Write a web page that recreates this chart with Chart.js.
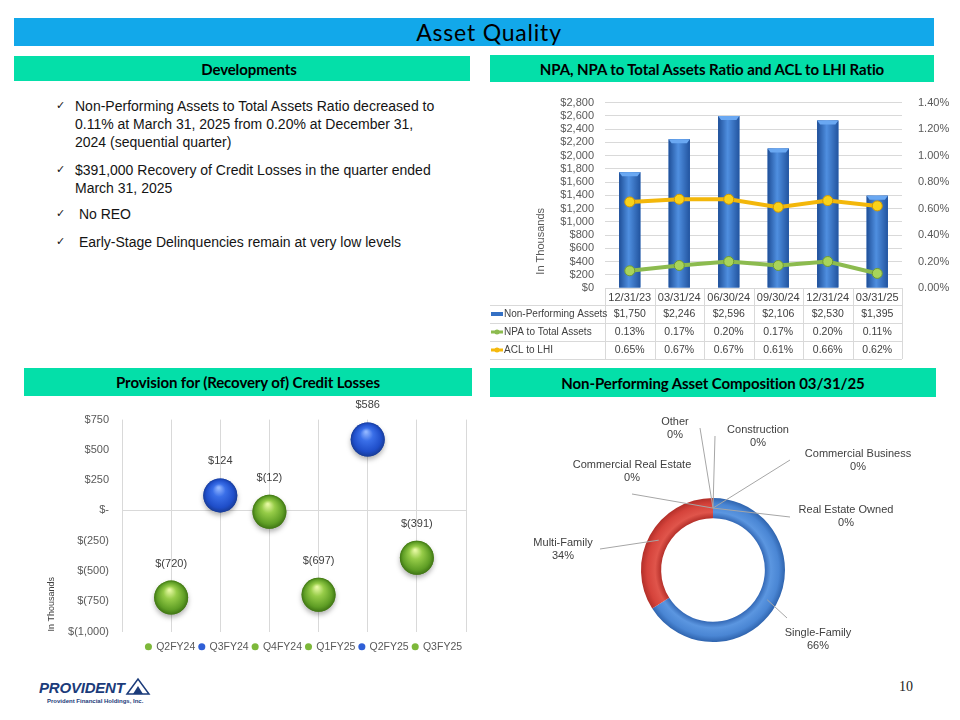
<!DOCTYPE html>
<html>
<head>
<meta charset="utf-8">
<script src="https://cdn.jsdelivr.net/npm/chart.js@4.4.1/dist/chart.umd.min.js"></script>
<style>
  body { margin: 0; background: #fff; width: 960px; height: 720px; position: relative; overflow: hidden; font-family: "Liberation Sans", Arial, sans-serif; }
  .band { position: absolute; display: flex; align-items: center; justify-content: center; color: #000; box-sizing: border-box; }
  .title { left: 14px; top: 18px; width: 920px; height: 28px; background: #12a8ea; font-family: Lato, sans-serif; font-size: 23px; letter-spacing: 0.8px; padding-left: 30px; }
  .sec { background: #04dfa9; font-family: Lato, sans-serif; font-weight: bold; font-size: 15px; letter-spacing: -0.1px; }
  canvas { position: absolute; }
  .bl { position: absolute; left: 75px; width: 420px; font-size: 14px; line-height: 18px; color: #141414; }
  .bl:before { content: "\2713"; position: absolute; left: -19px; top: 0; font-family: "DejaVu Sans"; font-size: 11px; }
  .logo { position: absolute; left: 39px; top: 677px; color: #1b3b7a; }
  .page { position: absolute; left: 899px; top: 679px; font-family: "Liberation Serif", serif; font-size: 14px; color: #222; }
</style>
</head>
<body>
<div class="band title">Asset Quality</div>
<div class="band sec" style="left:14px;top:56px;width:456px;height:25px;padding-left:14px">Developments</div>
<div class="band sec" style="left:490px;top:55px;width:444px;height:27px">NPA, NPA to Total Assets Ratio and ACL to LHI Ratio</div>
<div class="band sec" style="left:24px;top:368px;width:448px;height:28px">Provision for (Recovery of) Credit Losses</div>
<div class="band sec" style="left:490px;top:368px;width:446px;height:29px">Non-Performing Asset Composition 03/31/25</div>

<div class="bl" style="top:97px">Non-Performing Assets to Total Assets Ratio decreased to<br>0.11% at March 31, 2025 from 0.20% at December 31,<br>2024 (sequential quarter)</div>
<div class="bl" style="top:161px">$391,000 Recovery of Credit Losses in the quarter ended<br>March 31, 2025</div>
<div class="bl" style="top:205px">&nbsp;No REO</div>
<div class="bl" style="top:233px">&nbsp;Early-Stage Delinquencies remain at very low levels</div>

<canvas id="npa" width="470" height="275" style="left:490px;top:85px"></canvas>
<canvas id="prov" width="578" height="262" style="left:0px;top:400px"></canvas>
<canvas id="comp" width="450" height="260" style="left:490px;top:400px"></canvas>

<div class="logo">
  <div style="font-weight:bold;font-style:italic;font-size:15px;letter-spacing:-0.2px;">PROVIDENT<svg width="26" height="18" style="vertical-align:-2px"><polygon points="2,17 13,2 24,17" fill="none" stroke="#1b3b7a" stroke-width="1.5"/><polygon points="8,17 13,9 18,17" fill="#1b3b7a"/></svg></div>
  <div style="font-size:6px;font-weight:bold;margin-left:8px;margin-top:2px">Provident Financial Holdings, Inc.</div>
</div>
<div class="page">10</div>

<script>
// NPA chart
const quarterEnds = ['12/31/23', '03/31/24', '06/30/24', '09/30/24', '12/31/24', '03/31/25'];
const npaAmounts = [1750, 2246, 2596, 2106, 2530, 1395];
const npaToAssets = [0.13, 0.17, 0.20, 0.17, 0.20, 0.11];
const aclToLhi = [0.65, 0.67, 0.67, 0.61, 0.66, 0.62];

// provision chart
const provisionQuarters = ['Q2FY24', 'Q3FY24', 'Q4FY24', 'Q1FY25', 'Q2FY25', 'Q3FY25'];
const provisionAmounts = [-720, 124, -12, -697, 586, -391];

// composition chart
const compCategories = ['Single-Family', 'Multi-Family', 'Commercial Real Estate', 'Construction', 'Other', 'Commercial Business', 'Real Estate Owned'];
const compShares = [66, 34, 0, 0, 0, 0, 0];

const grey = '#595959';
Chart.defaults.font.family = '"Liberation Sans", Arial, sans-serif';
Chart.defaults.color = grey;

function money(v) {
  if (v === 0) return '$-';
  const s = Math.abs(v).toLocaleString('en-US');
  return v < 0 ? '$(' + s + ')' : '$' + s;
}

// ---------- NPA bar + line with data table ----------
const barShade = {
  id: 'barShade',
  afterDatasetDraw(chart, args) {
    if (args.meta.type !== 'bar') return;
    const ctx = chart.ctx;
    args.meta.data.forEach(el => {
      const w = el.width, l = el.x - w / 2;
      const g = ctx.createLinearGradient(l, 0, l + w, 0);
      g.addColorStop(0, '#1f4f98');
      g.addColorStop(0.45, '#4f8fe0');
      g.addColorStop(1, '#22549f');
      ctx.save();
      ctx.fillStyle = g;
      ctx.fillRect(l, el.y, w, el.base - el.y);
      ctx.fillStyle = '#6aa8f2';
      ctx.beginPath();
      ctx.moveTo(l, el.y); ctx.lineTo(l + w, el.y); ctx.lineTo(l + w - 3, el.y + 4); ctx.lineTo(l + 3, el.y + 4);
      ctx.closePath(); ctx.fill();
      ctx.restore();
    });
  }
};

const npaTable = {
  id: 'npaTable',
  afterDraw(chart) {
    const {ctx, chartArea: a, scales: {x}} = chart;
    const colW = x.getPixelForValue(1) - x.getPixelForValue(0);
    const left = 0, right = a.right;
    const headH = 17, rowH = 18;
    const rows = [
      {name: 'Non-Performing Assets', vals: npaAmounts.map(v => '$' + v.toLocaleString('en-US')), kind: 'bar', color: '#3470c4'},
      {name: 'NPA to Total Assets', vals: npaToAssets.map(v => v.toFixed(2) + '%'), kind: 'line', color: '#8cbb4f'},
      {name: 'ACL to LHI', vals: aclToLhi.map(v => v.toFixed(2) + '%'), kind: 'line', color: '#f5b90c'}
    ];
    const bottom = a.bottom + headH + rowH * rows.length;
    ctx.save();
    ctx.strokeStyle = '#d9d9d9';
    ctx.lineWidth = 1;
    ctx.beginPath();
    for (let i = 0; i <= quarterEnds.length; i++) {
      const px = Math.round(a.left + i * colW) + 0.5;
      ctx.moveTo(px, a.bottom); ctx.lineTo(px, bottom);
    }
    for (let r = 0; r <= rows.length; r++) {
      const py = Math.round(a.bottom + headH + r * rowH) + 0.5;
      ctx.moveTo(left, py); ctx.lineTo(right, py);
    }
    ctx.stroke();
    ctx.textAlign = 'center';
    ctx.textBaseline = 'middle';
    ctx.fillStyle = '#404040';
    ctx.font = '11px "Liberation Sans"';
    quarterEnds.forEach((q, i) => ctx.fillText(q, x.getPixelForValue(i), a.bottom + headH / 2 + 1));
    rows.forEach((row, r) => {
      const cy = a.bottom + headH + r * rowH + rowH / 2;
      ctx.font = '10.5px "Liberation Sans"';
      row.vals.forEach((v, i) => ctx.fillText(v, x.getPixelForValue(i), cy));
      ctx.textAlign = 'left';
      ctx.font = '10px "Liberation Sans"';
      ctx.fillText(row.name, 14, cy);
      ctx.textAlign = 'center';
      if (row.kind === 'bar') {
        ctx.fillStyle = row.color; ctx.fillRect(1, cy - 2, 12, 4);
      } else {
        ctx.fillStyle = row.color; ctx.fillRect(1, cy - 1.5, 12, 3);
        ctx.beginPath(); ctx.arc(7, cy, 2.5, 0, Math.PI * 2); ctx.fill();
      }
      ctx.fillStyle = '#404040';
    });
    // axis title
    ctx.translate(51, (a.top + a.bottom) / 2 + 46);
    ctx.rotate(-Math.PI / 2);
    ctx.font = '11px "Liberation Sans"';
    ctx.fillStyle = grey;
    ctx.fillText('In Thousands', 0, 0);
    ctx.restore();
  }
};

new Chart(document.getElementById('npa'), {
  data: {
    labels: quarterEnds,
    datasets: [
      {type: 'line', label: 'ACL to LHI', data: aclToLhi, yAxisID: 'y1', borderColor: '#f3b70a', borderWidth: 4, tension: 0,
        pointRadius: 5, pointBackgroundColor: '#f9d21a', pointBorderColor: '#d39a00', pointBorderWidth: 1, order: 0},
      {type: 'line', label: 'NPA to Total Assets', data: npaToAssets, yAxisID: 'y1', borderColor: '#8cbb4f', borderWidth: 4, tension: 0,
        pointRadius: 5, pointBackgroundColor: '#a8d45a', pointBorderColor: '#6f9a33', pointBorderWidth: 1, order: 1},
      {type: 'bar', label: 'Non-Performing Assets', data: npaAmounts, yAxisID: 'y', backgroundColor: '#3470c4',
        borderWidth: 0, barPercentage: 0.43, categoryPercentage: 1, order: 2}
    ]
  },
  options: {
    responsive: false,
    animation: false,
    layout: {padding: {top: 9, left: 0, right: 0, bottom: 0}},
    plugins: {legend: {display: false}, tooltip: {enabled: false}},
    scales: {
      x: {grid: {display: false}, ticks: {display: false}, border: {display: false},
        afterFit: s => { s.height = 72; }},
      y: {position: 'left', min: 0, max: 2800,
        ticks: {stepSize: 200, autoSkip: false, padding: 11, font: {size: 11}, callback: v => '$' + v.toLocaleString('en-US')},
        grid: {color: '#d9d9d9', drawTicks: false}, border: {display: false},
        afterFit: s => { s.width = 115; }},
      y1: {position: 'right', min: 0, max: 1.4,
        ticks: {stepSize: 0.2, autoSkip: false, padding: 8, font: {size: 11}, callback: v => v.toFixed(2) + '%'},
        grid: {display: false}, border: {display: false},
        afterFit: s => { s.width = 58; }}
    }
  },
  plugins: [barShade, npaTable]
});

// ---------- Provision bubbles ----------
const glossy = {
  id: 'glossy',
  afterDatasetsDraw(chart) {
    const ctx = chart.ctx;
    chart.data.datasets.forEach((ds, i) => {
      chart.getDatasetMeta(i).data.forEach((el, j) => {
        const {x, y} = el;
        const r = el.options.radius;
        const up = ds.data[j].y > 0;
        ctx.save();
        ctx.shadowColor = 'rgba(0,0,0,0.3)';
        ctx.shadowBlur = 5;
        ctx.shadowOffsetY = 3;
        const g = ctx.createRadialGradient(x - r * 0.1, y - r * 0.45, r * 0.05, x, y, r);
        g.addColorStop(0, up ? '#8fb4ff' : '#e4f7a0');
        g.addColorStop(0.35, up ? '#3a6fe8' : '#96cc48');
        g.addColorStop(0.8, up ? '#1f4ec9' : '#5f9e25');
        g.addColorStop(1, up ? '#183c98' : '#3f7514');
        ctx.beginPath();
        ctx.arc(x, y, r, 0, Math.PI * 2);
        ctx.fillStyle = g;
        ctx.fill();
        ctx.restore();
        ctx.save();
        ctx.fillStyle = '#404040';
        ctx.font = '11px "Liberation Sans"';
        ctx.textAlign = 'center';
        ctx.textBaseline = 'middle';
        ctx.fillText(money(ds.data[j].y), x, y - 34);
        ctx.restore();
      });
    });
    const a = chart.chartArea;
    ctx.save();
    ctx.translate(52, a.bottom);
    ctx.rotate(-Math.PI / 2);
    ctx.font = '9px "Liberation Sans"';
    ctx.fillStyle = '#404040';
    ctx.textAlign = 'left';
    ctx.textBaseline = 'middle';
    ctx.fillText('In Thousands', 0, 0);
    ctx.restore();
  }
};

new Chart(document.getElementById('prov'), {
  type: 'bubble',
  data: {
    datasets: provisionQuarters.map((q, i) => ({
      label: q,
      data: [{x: i + 1, y: provisionAmounts[i]}],
      radius: 17,
      borderWidth: 0,
      backgroundColor: provisionAmounts[i] > 0 ? '#2f5fd6' : '#7db83a'
    }))
  },
  options: {
    responsive: false,
    animation: false,
    layout: {padding: {left: 30, right: 0, top: 19, bottom: 0}},
    plugins: {
      tooltip: {enabled: false},
      legend: {position: 'bottom', labels: {usePointStyle: true, pointStyle: 'circle', boxWidth: 5, boxHeight: 5, padding: 4, font: {size: 10.5}, color: grey}}
    },
    scales: {
      x: {type: 'linear', min: 0, max: 7, ticks: {display: false, stepSize: 1}, grid: {color: '#d9d9d9', drawTicks: false}, border: {display: false},
        afterFit: s => { s.height = 6; }},
      y: {min: -1000, max: 750, ticks: {stepSize: 250, autoSkip: false, padding: 13, font: {size: 11}, callback: v => money(v)},
        grid: {color: c => c.tick && c.tick.value === 0 ? '#d9d9d9' : 'rgba(0,0,0,0)', drawTicks: false}, border: {display: false},
        afterFit: s => { s.width = 92; }},
      yR: {position: 'right', ticks: {display: false}, grid: {display: false}, border: {display: false},
        afterFit: s => { s.width = 112; }}
    }
  },
  plugins: [glossy]
});

// ---------- Composition doughnut ----------
const compColors = ['#4a86d4', '#d5433b', '#9bbb59', '#8064a2', '#4bacc6', '#f79646', '#2c4d75'];
const ringStops = [
  ['#3469b6', '#5b96e0', '#4a86d4', '#2f64ae'],
  ['#b5302a', '#e0554b', '#d5433b', '#b22f29']
];
// label text centre (tx, ty) and leader start (lx, ly), relative to ring centre
const compLabelPos = [
  {tx: 105, ty: 63, lx: 74, ly: 48},
  {tx: -150, ty: -27, lx: -113, ly: -21},
  {tx: -81, ty: -105, lx: -81, ly: -76},
  {tx: 45, ty: -140, lx: 2, ly: -134},
  {tx: -38, ty: -148, lx: -13, ly: -142},
  {tx: 145, ty: -116, lx: 77, ly: -110},
  {tx: 133, ty: -60, lx: 77, ly: -53}
];

function ringFill(c) {
  const chart = c.chart, a = chart.chartArea;
  const stops = ringStops[c.dataIndex];
  if (!a || !stops) return compColors[c.dataIndex];
  const cx = (a.left + a.right) / 2, cy = (a.top + a.bottom) / 2;
  const R = Math.min(a.width, a.height) / 2;
  const g = chart.ctx.createRadialGradient(cx, cy, R * 0.72, cx, cy, R);
  g.addColorStop(0, stops[0]);
  g.addColorStop(0.3, stops[1]);
  g.addColorStop(0.7, stops[2]);
  g.addColorStop(1, stops[3]);
  return g;
}

const compLabels = {
  id: 'compLabels',
  afterDraw(chart) {
    const ctx = chart.ctx;
    const meta = chart.getDatasetMeta(0);
    const total = compShares.reduce((s, v) => s + v, 0);
    ctx.save();
    ctx.strokeStyle = '#a6a6a6';
    ctx.lineWidth = 1;
    meta.data.forEach((el, i) => {
      const p = compLabelPos[i];
      const ang = (el.startAngle + el.endAngle) / 2;
      const rm = (el.innerRadius + el.outerRadius) / 2;
      ctx.beginPath();
      ctx.moveTo(el.x + p.lx, el.y + p.ly);
      ctx.lineTo(el.x + Math.cos(ang) * rm, el.y + Math.sin(ang) * rm);
      ctx.stroke();
    });
    ctx.fillStyle = '#404040';
    ctx.font = '11px "Liberation Sans"';
    ctx.textAlign = 'center';
    ctx.textBaseline = 'middle';
    meta.data.forEach((el, i) => {
      const p = compLabelPos[i];
      ctx.fillText(compCategories[i], el.x + p.tx, el.y + p.ty);
      ctx.fillText(Math.round(compShares[i] / total * 100) + '%', el.x + p.tx, el.y + p.ty + 13);
    });
    ctx.restore();
  }
};

new Chart(document.getElementById('comp'), {
  type: 'doughnut',
  data: {
    labels: compCategories,
    datasets: [{data: compShares, backgroundColor: ringFill, borderWidth: 0}]
  },
  options: {
    responsive: false,
    animation: false,
    cutout: '72%',
    layout: {padding: {left: 151, right: 155, top: 98, bottom: 18}},
    plugins: {legend: {display: false}, tooltip: {enabled: false}}
  },
  plugins: [compLabels]
});
</script>
</body>
</html>
